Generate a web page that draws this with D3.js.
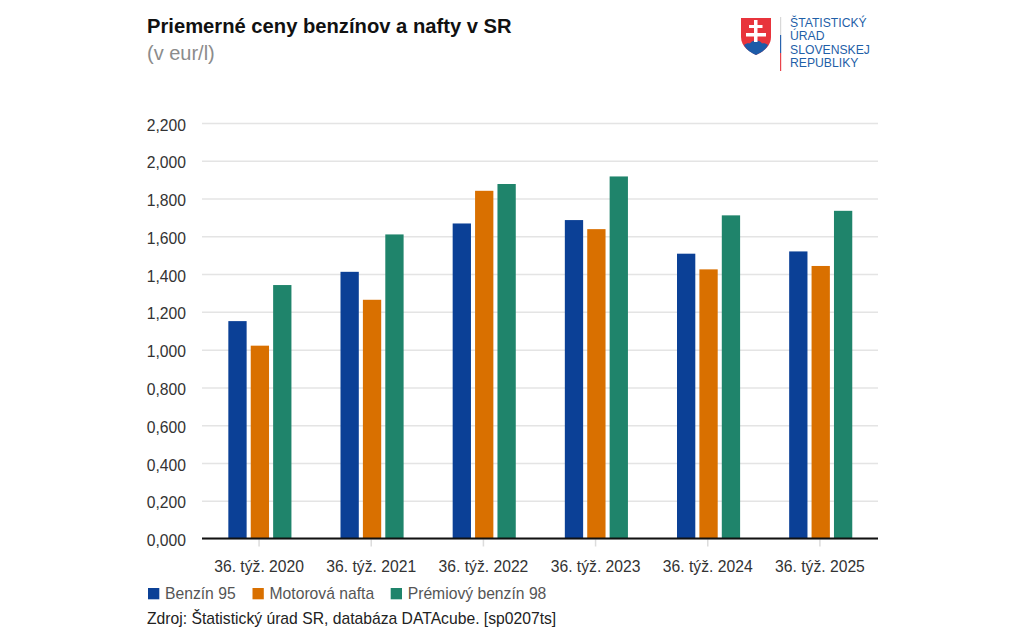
<!DOCTYPE html>
<html>
<head>
<meta charset="utf-8">
<script src="https://cdn.jsdelivr.net/npm/d3@7"></script>
<style>
  html, body { margin: 0; padding: 0; background: #fff; }
  svg { display: block; }
  text { font-family: "Liberation Sans", Arial, sans-serif; }
</style>
</head>
<body>
<svg id="chart" width="1024" height="640"></svg>
<script>
// Values
var categories = ["36. týž. 2020", "36. týž. 2021", "36. týž. 2022", "36. týž. 2023", "36. týž. 2024", "36. týž. 2025"];
var seriesNames = ["Benzín 95", "Motorová nafta", "Prémiový benzín 98"];
var benzin95 = [1.151, 1.412, 1.668, 1.686, 1.508, 1.520];
var nafta = [1.021, 1.264, 1.841, 1.638, 1.425, 1.443];
var benzin98 = [1.342, 1.610, 1.877, 1.917, 1.711, 1.735];
var yTicks = [0, 0.2, 0.4, 0.6, 0.8, 1.0, 1.2, 1.4, 1.6, 1.8, 2.0, 2.2];
var colors = ["#0b4096", "#d97000", "#1f846b"];
var logoLines = ["ŠTATISTICKÝ", "ÚRAD", "SLOVENSKEJ", "REPUBLIKY"];

var allSeries = [benzin95, nafta, benzin98];
var svg = d3.select("#chart");

var y = d3.scaleLinear().domain([0, 2.2]).range([538.5, 123]);
var x = d3.scaleBand().domain(categories).range([203, 876]);
// bars sit a little right of the tick, like in the original
var xInner = d3.scaleBand().domain(d3.range(3))
  .range([x.bandwidth() / 2 - 30.75, x.bandwidth() / 2 + 32.35]).paddingInner(0.183);

// Title
svg.append("text").attr("x", 147).attr("y", 33).attr("font-size", 20.2).attr("font-weight", "bold")
  .attr("fill", "#111").text("Priemerné ceny benzínov a nafty v SR");
svg.append("text").attr("x", 147).attr("y", 60).attr("font-size", 20).attr("fill", "#8c8c8c").text("(v eur/l)");

// Y axis with gridlines
var yAxis = d3.axisLeft(y).tickValues(yTicks).tickSize(0).tickPadding(16)
  .tickFormat(d => d3.format(".3f")(d).replace(".", ","));
var yG = svg.append("g").attr("transform", "translate(202,0)").call(yAxis);
yG.select(".domain").remove();
yG.selectAll("text").attr("font-size", 15.7).attr("fill", "#333").attr("font-family", "Liberation Sans").attr("dy", "0.45em");
yG.selectAll("line").attr("x2", 676).attr("stroke", "#e4e4e4").attr("stroke-width", 1.5);

// X axis
var xAxis = d3.axisBottom(x).tickSize(8).tickPadding(14);
var xG = svg.append("g").attr("transform", "translate(0,538.5)").call(xAxis);
xG.select(".domain").remove();
xG.selectAll("line").attr("stroke", "#dcdcdc").attr("stroke-width", 1.5);
xG.selectAll("text").attr("font-size", 15.7).attr("fill", "#333").attr("font-family", "Liberation Sans");

// Bars
allSeries.forEach(function (values, s) {
  svg.append("g").selectAll("rect").data(values).join("rect")
    .attr("x", (d, i) => x(categories[i]) + xInner(s))
    .attr("width", xInner.bandwidth())
    .attr("y", d => y(d))
    .attr("height", d => y(0) - y(d))
    .attr("fill", colors[s]);
});

// Baseline
svg.append("line").attr("x1", 202).attr("x2", 878).attr("y1", y(0)).attr("y2", y(0))
  .attr("stroke", "#111").attr("stroke-width", 2);

// Legend
var legendX = [148, 252.5, 390.7];
seriesNames.forEach(function (name, i) {
  svg.append("rect").attr("x", legendX[i]).attr("y", 588).attr("width", 11.3).attr("height", 11.3).attr("fill", colors[i]);
  svg.append("text").attr("x", legendX[i] + 17).attr("y", 599).attr("font-size", 15.7).attr("fill", "#555").text(name);
});

// Source
svg.append("text").attr("x", 147).attr("y", 624).attr("font-size", 15.7).attr("fill", "#222")
  .text("Zdroj: Štatistický úrad SR, databáza DATAcube. [sp0207ts]");

// Logo
var logo = svg.append("g");
logo.append("path").attr("d", "M741 18H771V37C771 47 762 52 756 55C750 52 741 47 741 37Z").attr("fill", "#e8343c");
logo.append("path").attr("d", "M744 45C746 43.5 748 43 750 43.5C752 39.5 760 39.5 762 43.5C764 43 766 43.5 768 45C765 51 760 53 756 55C752 53 747 51 744 45Z").attr("fill", "#1c5ba8");
logo.append("path").attr("d", "M754 20H757.5V25H762.5V28H757.5V33H766V36.5H757.5V42H754V36.5H746V33H754V28H749V25H754Z").attr("fill", "#fff");
logo.append("rect").attr("x", 780).attr("y", 17).attr("width", 1.2).attr("height", 18).attr("fill", "#d8d8d8");
logo.append("rect").attr("x", 780).attr("y", 35).attr("width", 1.2).attr("height", 18).attr("fill", "#2a63ad");
logo.append("rect").attr("x", 780).attr("y", 53).attr("width", 1.2).attr("height", 18).attr("fill", "#e8444c");
logoLines.forEach(function (line, i) {
  logo.append("text").attr("x", 790).attr("y", 26.5 + i * 13.6).attr("font-size", 12.2)
    .attr("font-family", "Lato").attr("font-weight", 500).attr("fill", "#1f5fa8").text(line);
});
</script>
</body>
</html>
